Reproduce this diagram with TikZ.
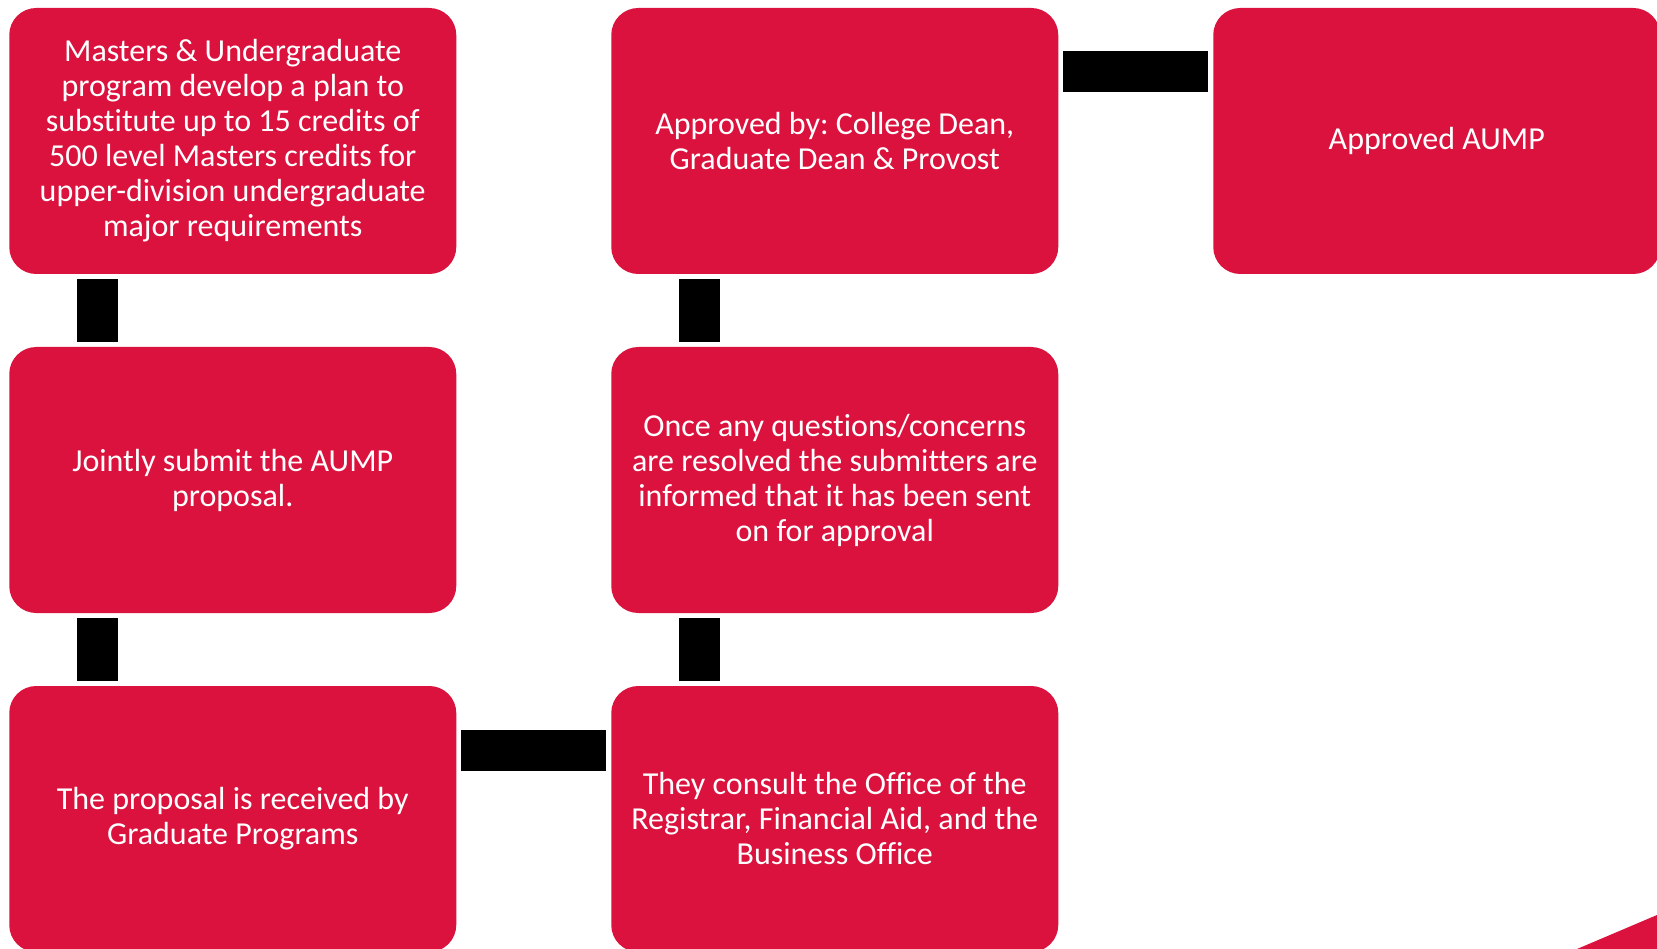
\documentclass[tikz,border=0pt]{standalone}
\usepackage{fontspec}
\setmainfont{Carlito}[Ligatures=NoCommon]
\usetikzlibrary{positioning}
\definecolor{aumpred}{RGB}{218,18,61}
\frenchspacing

\begin{document}
\begin{tikzpicture}[x=1pt,y=-1pt,
	stepbox/.style={rectangle, rounded corners=27pt, fill=aumpred, text=white,
		minimum width=447pt, minimum height=266pt, inner sep=0pt, outer sep=0pt,
		align=center, font=\fontsize{32}{35}\selectfont},
	bar/.style={line width=41pt, black, shorten <=5pt, shorten >=5pt},
	node distance=73pt and 155pt]
	\clip (0,0) rectangle (1657,949);
%	\draw [help lines, step=100] (0,0) grid (1657,949);
	\node [stepbox] (plan) at (232.75,141) {Masters \& Undergraduate\\program develop a plan to\\substitute up to 15 credits of\\500 level Masters credits for\\upper-division undergraduate\\major requirements};
	\node [stepbox, below=of plan] (submit) {Jointly submit the AUMP\\proposal.};
	\node [stepbox, below=of submit] (received) {The proposal is received by\\Graduate Programs};
	\node [stepbox, right=of received] (consult) {They consult the Office of the\\Registrar, Financial Aid, and the\\Business Office};
	\node [stepbox, above=of consult] (resolved) {Once any questions/concerns\\are resolved the submitters are\\informed that it has been sent\\on for approval};
	\node [stepbox, above=of resolved] (deans) {Approved by: College Dean,\\Graduate Dean \& Provost};
	\node [stepbox, right=of deans] (approved) {Approved AUMP};
	% connectors
	\draw [bar] ([xshift=88pt]plan.south west) -- ([xshift=88pt]submit.north west);
	\draw [bar] ([xshift=88pt]submit.south west) -- ([xshift=88pt]received.north west);
	\draw [bar] ([yshift=-64.5pt]received.north east) -- ([yshift=-64.5pt]consult.north west);
	\draw [bar] ([xshift=88.5pt]consult.north west) -- ([xshift=88.5pt]resolved.south west);
	\draw [bar] ([xshift=88.5pt]resolved.north west) -- ([xshift=88.5pt]deans.south west);
	\draw [bar] ([yshift=-63.5pt]deans.north east) -- ([yshift=-63.5pt]approved.north west);
	\fill [aumpred] (1577,949) -- (1657,915) -- (1657,949) -- cycle;
\end{tikzpicture}
\end{document}
